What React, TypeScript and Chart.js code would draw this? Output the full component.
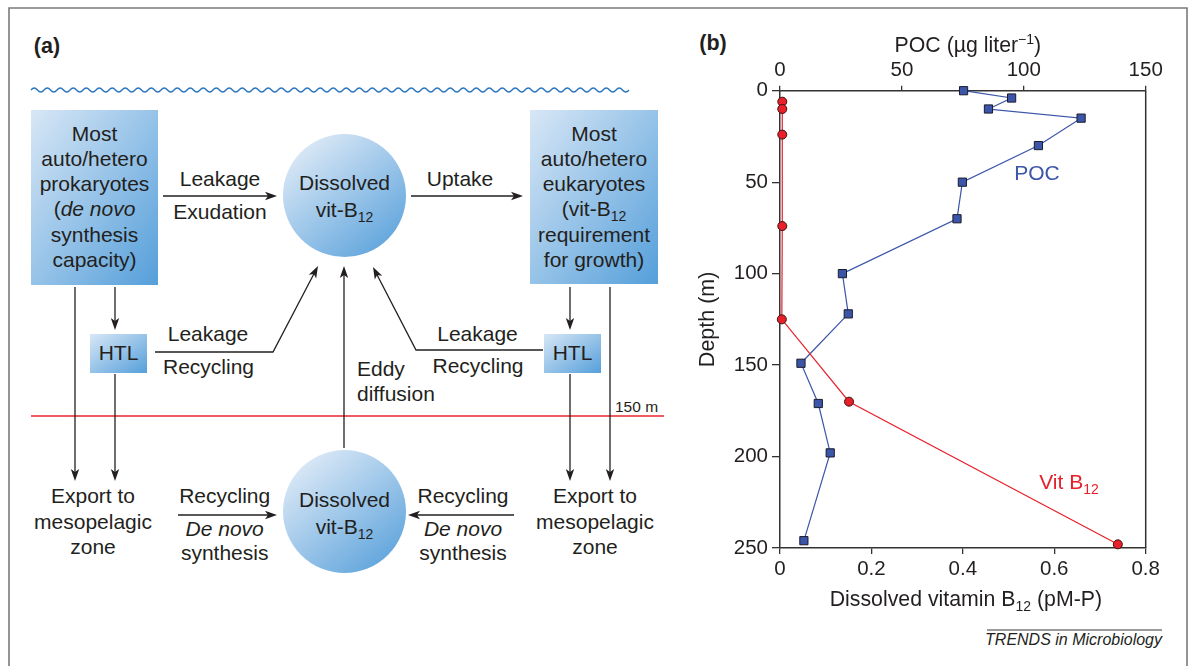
import React, { useEffect, useRef } from "react";
import { Chart, registerables } from "chart.js";

Chart.register(...registerables);

// ---------- data (panel b) ----------
const pocDepth = [0, 4, 10, 15, 30, 50, 70, 100, 122, 149, 171, 198, 246];
const pocValues = [75.3, 95, 85.5, 123.5, 106, 74.8, 72.6, 25.6, 28, 8.6, 15.7, 20.6, 9.8];
const b12Depth = [6, 10, 24, 74, 125, 170, 248];
const b12Values = [0.005, 0.005, 0.005, 0.005, 0.004, 0.151, 0.739];
const pocTicks = [0, 50, 100, 150];
const b12Ticks = [0, 0.2, 0.4, 0.6, 0.8];
const depthTicks = [0, 50, 100, 150, 200, 250];
const pocLabel = { text: "POC", poc: 105.4, depth: 49 };
const b12Label = { text: "Vit B", sub: "12", b12: 0.567, depth: 218 };

const FONT = "'Liberation Sans', Arial, Helvetica, sans-serif";
const INK = "#231f20";
const AXIS = "#333333";
const BLUE = "#3b55a8";
const RED = "#e8202a";
const FS = 21;

type Seg = { t: string; sup?: boolean; sub?: boolean };

function drawRich(ctx: CanvasRenderingContext2D, segs: Seg[], cx: number, y: number, color: string, size: number, align: "center" | "left") {
  const small = Math.round(size * 0.68);
  const widths = segs.map((s) => {
    ctx.font = `${s.sup || s.sub ? small : size}px ${FONT}`;
    return ctx.measureText(s.t).width;
  });
  const total = widths.reduce((a, b) => a + b, 0);
  let x = align === "center" ? cx - total / 2 : cx;
  ctx.fillStyle = color;
  ctx.textAlign = "left";
  ctx.textBaseline = "alphabetic";
  segs.forEach((s, i) => {
    ctx.font = `${s.sup || s.sub ? small : size}px ${FONT}`;
    const dy = s.sup ? -8 : s.sub ? 5 : 0;
    ctx.fillText(s.t, x, y + dy);
    x += widths[i];
  });
}

const overlayPlugin = {
  id: "overlay",
  beforeDatasetsDraw(chart: any) {
    const { ctx, chartArea: a } = chart;
    ctx.save();
    ctx.strokeStyle = AXIS;
    ctx.lineWidth = 1.5;
    ctx.beginPath();
    ctx.moveTo(a.right, a.top);
    ctx.lineTo(a.right, a.bottom);
    ctx.stroke();
    ctx.restore();
  },
  afterDraw(chart: any) {
    const { ctx, chartArea: a, scales } = chart;
    ctx.save();
    const cx = (a.left + a.right) / 2;
    drawRich(ctx, [{ t: "POC (\u00b5g liter" }, { t: "\u22121", sup: true }, { t: ")" }], cx + 5, a.top - 39, INK, 21.3, "center");
    drawRich(ctx, [{ t: "Dissolved vitamin B" }, { t: "12", sub: true }, { t: " (pM-P)" }], cx + 3, a.bottom + 58, INK, 21.3, "center");
    const px = scales.x2.getPixelForValue(pocLabel.poc);
    const py = scales.y.getPixelForValue(pocLabel.depth);
    drawRich(ctx, [{ t: pocLabel.text }], px, py, BLUE, 21, "center");
    const bx = scales.x.getPixelForValue(b12Label.b12);
    const by = scales.y.getPixelForValue(b12Label.depth);
    drawRich(ctx, [{ t: b12Label.text }, { t: b12Label.sub, sub: true }], bx, by, RED, 21, "left");
    ctx.restore();
  },
};

function BChart() {
  const ref = useRef<HTMLCanvasElement | null>(null);
  useEffect(() => {
    if (!ref.current) return;
    const tickFont = { size: 20.5, family: FONT };
    const baseGrid = { drawOnChartArea: false, drawTicks: true, color: AXIS, tickColor: AXIS, lineWidth: 1.3 };
    const chart = new Chart(ref.current, {
      type: "line",
      data: {
        datasets: [
          {
            label: "Vit B12",
            data: b12Depth.map((d, i) => ({ x: b12Values[i], y: d })),
            xAxisID: "x",
            yAxisID: "y",
            borderColor: RED,
            borderWidth: 1.2,
            pointStyle: "circle",
            pointRadius: 4.5,
            pointBackgroundColor: RED,
            pointBorderColor: "#3a1010",
            pointBorderWidth: 1,
            tension: 0,
            clip: false,
          } as any,
          {
            label: "POC",
            data: pocDepth.map((d, i) => ({ x: pocValues[i], y: d })),
            xAxisID: "x2",
            yAxisID: "y",
            borderColor: BLUE,
            borderWidth: 1.2,
            pointStyle: "rect",
            pointRadius: 5.8,
            pointBackgroundColor: BLUE,
            pointBorderColor: "#1b1b2b",
            pointBorderWidth: 1,
            tension: 0,
            clip: false,
          } as any,
        ],
      },
      options: {
        animation: false,
        responsive: false,
        devicePixelRatio: 1,
        layout: { padding: { left: 0, top: 0, right: 34.3, bottom: 0 } },
        plugins: { legend: { display: false }, tooltip: { enabled: false } },
        scales: {
          x: {
            type: "linear",
            position: "bottom",
            min: b12Ticks[0],
            max: b12Ticks[b12Ticks.length - 1],
            afterBuildTicks: (s: any) => { s.ticks = b12Ticks.map((v) => ({ value: v })); },
            ticks: { font: tickFont, color: INK, padding: 3, maxRotation: 0, autoSkip: false },
            grid: { ...baseGrid, tickLength: 6 },
            border: { display: true, color: AXIS, width: 1.5 },
            afterFit: (s: any) => { s.height = 72; },
          },
          x2: {
            type: "linear",
            position: "top",
            min: pocTicks[0],
            max: pocTicks[pocTicks.length - 1],
            afterBuildTicks: (s: any) => { s.ticks = pocTicks.map((v) => ({ value: v })); },
            ticks: { font: tickFont, color: INK, padding: 3, maxRotation: 0, autoSkip: false },
            grid: { ...baseGrid, tickLength: 5 },
            border: { display: true, color: AXIS, width: 1.5 },
            afterFit: (s: any) => { s.height = 70.7; },
          },
          y: {
            type: "linear",
            position: "left",
            reverse: true,
            min: depthTicks[0],
            max: depthTicks[depthTicks.length - 1],
            afterBuildTicks: (s: any) => { s.ticks = depthTicks.map((v) => ({ value: v })); },
            ticks: { font: tickFont, color: INK, padding: 4, autoSkip: false },
            grid: { ...baseGrid, tickLength: 8 },
            border: { display: true, color: AXIS, width: 1.5 },
            title: { display: true, text: "Depth (m)", font: { size: 21.5, family: FONT }, color: INK, padding: { top: 15, bottom: 0 } },
            afterFit: (s: any) => { s.width = 100; },
          },
        },
      } as any,
      plugins: [overlayPlugin],
    });
    return () => chart.destroy();
  }, []);
  return (
    <canvas
      ref={ref}
      width={500}
      height={600}
      style={{ position: "absolute", left: 680, top: 20, width: 500, height: 600 }}
    />
  );
}

// ---------- diagram (panel a) ----------
type Pt = [number, number];

function Arrow({ pts }: { pts: Pt[] }) {
  const n = pts.length;
  const [x2, y2] = pts[n - 1];
  const [x1, y1] = pts[n - 2];
  const len = Math.hypot(x2 - x1, y2 - y1);
  const ux = (x2 - x1) / len;
  const uy = (y2 - y1) / len;
  const nx = -uy;
  const ny = ux;
  const L = 12, W = 4.2, N = 9;
  const bx = x2 - L * ux, by = y2 - L * uy;
  const head = [
    [x2, y2],
    [bx + W * nx, by + W * ny],
    [x2 - N * ux, y2 - N * uy],
    [bx - W * nx, by - W * ny],
  ].map((p) => p.join(",")).join(" ");
  const line = pts.slice(0, n - 1).concat([[x2 - N * ux, y2 - N * uy]]).map((p) => p.join(",")).join(" ");
  return (
    <g>
      <polyline points={line} fill="none" stroke={INK} strokeWidth={1.3} />
      <polygon points={head} fill={INK} />
    </g>
  );
}

function T({ x, y, children, anchor = "middle", size = FS, weight, fill = INK, style }: any) {
  return (
    <text x={x} y={y} textAnchor={anchor} fontSize={size} fontFamily={FONT} fontWeight={weight} fill={fill} fontStyle={style}>
      {children}
    </text>
  );
}

const Sub = ({ children }: any) => (
  <tspan fontSize={14} dy={5}>{children}</tspan>
);

function wavePath() {
  let d = "M 31 90";
  for (let x = 31; x + 13 <= 633; x += 13) d += " q 3.25 -4 6.5 0 q 3.25 4 6.5 0";
  return d;
}

function Diagram() {
  const lines = (cx: number, ys: number[], txt: any[]) =>
    txt.map((t, i) => (
      <T key={i} x={cx} y={ys[i]}>{t}</T>
    ));
  const boxYs = [140.7, 165.9, 191.1, 216.3, 241.5, 266.7];
  return (
    <svg width={1189} height={666} style={{ position: "absolute", left: 0, top: 0 }}>
      <defs>
        <linearGradient id="gb" x1="0" y1="0" x2="1" y2="1">
          <stop offset="0%" stopColor="#d8e7f6" />
          <stop offset="100%" stopColor="#559fda" />
        </linearGradient>
        <linearGradient id="gc" x1="0.15" y1="0.1" x2="0.85" y2="0.95">
          <stop offset="0%" stopColor="#dae8f6" />
          <stop offset="100%" stopColor="#5fa4dc" />
        </linearGradient>
      </defs>
      {/* frame */}
      <polyline points="9,666 9,8 1187,8 1187,666" fill="none" stroke="#7a7a7a" strokeWidth={1.6} />
      <T x={47} y={53} weight="bold" size={21.5}>(a)</T>
      <T x={713} y={50} weight="bold" size={21.5}>(b)</T>
      <path d={wavePath()} fill="none" stroke="#2b76bf" strokeWidth={1.3} />
      {/* boxes */}
      <rect x={31} y={110} width={127} height={175} fill="url(#gb)" />
      <rect x={530} y={110} width={128} height={174} fill="url(#gb)" />
      <rect x={90} y={334} width={57} height={39} fill="url(#gb)" />
      <rect x={544} y={334} width={57} height={39} fill="url(#gb)" />
      <circle cx={344.5} cy={195.5} r={61.5} fill="url(#gc)" />
      <circle cx={344.5} cy={511.5} r={61.5} fill="url(#gc)" />
      {/* red 150 m line */}
      <line x1={31} y1={416} x2={664} y2={416} stroke="#e8242c" strokeWidth={1.3} />
      <T x={615} y={411.7} anchor="start" size={15.5}>150 m</T>
      {/* arrows */}
      <Arrow pts={[[163, 196], [277, 196]]} />
      <Arrow pts={[[411, 196], [523, 196]]} />
      <Arrow pts={[[115, 287], [115, 330]]} />
      <Arrow pts={[[75, 287], [75, 481]]} />
      <Arrow pts={[[115, 374], [115, 481]]} />
      <Arrow pts={[[155, 352], [273, 352], [318, 266]]} />
      <Arrow pts={[[344, 448], [344, 266]]} />
      <Arrow pts={[[543, 350], [416, 350], [373, 267]]} />
      <Arrow pts={[[570, 287], [570, 330]]} />
      <Arrow pts={[[610, 287], [610, 481]]} />
      <Arrow pts={[[570, 374], [570, 481]]} />
      <Arrow pts={[[178, 515], [277, 515]]} />
      <Arrow pts={[[514, 515], [408, 515]]} />
      {/* box texts */}
      {lines(94.5, boxYs, [
        "Most",
        "auto/hetero",
        "prokaryotes",
        <>(<tspan fontStyle="italic">de novo</tspan></>,
        "synthesis",
        "capacity)",
      ])}
      {lines(594, boxYs, [
        "Most",
        "auto/hetero",
        "eukaryotes",
        <>(vit-B<Sub>12</Sub></>,
        "requirement",
        "for growth)",
      ])}
      <T x={118.5} y={360}>HTL</T>
      <T x={572.5} y={360}>HTL</T>
      {/* circle texts */}
      <T x={344.5} y={190}>Dissolved</T>
      <T x={344.5} y={217}>vit-B<Sub>12</Sub></T>
      <T x={344.5} y={507}>Dissolved</T>
      <T x={344.5} y={534}>vit-B<Sub>12</Sub></T>
      {/* arrow labels */}
      <T x={220} y={185.7}>Leakage</T>
      <T x={220} y={219}>Exudation</T>
      <T x={460} y={186}>Uptake</T>
      <T x={208} y={341}>Leakage</T>
      <T x={208.5} y={374}>Recycling</T>
      <T x={477.5} y={340.7}>Leakage</T>
      <T x={478} y={373}>Recycling</T>
      <T x={357} y={376} anchor="start">Eddy</T>
      <T x={357} y={400.7} anchor="start">diffusion</T>
      <T x={224.7} y={502.7}>Recycling</T>
      <T x={224.7} y={536} style="italic">De novo</T>
      <T x={224.7} y={560}>synthesis</T>
      <T x={463} y={502.7}>Recycling</T>
      <T x={463} y={536} style="italic">De novo</T>
      <T x={463} y={560}>synthesis</T>
      {lines(93, [503, 529, 554], ["Export to", "mesopelagic", "zone"])}
      {lines(595, [503, 529, 554], ["Export to", "mesopelagic", "zone"])}
      {/* footer */}
      <line x1={987} y1={630} x2={1162} y2={630} stroke="#7a7a7a" strokeWidth={1.5} />
      <T x={1162} y={645} anchor="end" size={16} style="italic">TRENDS in Microbiology</T>
    </svg>
  );
}

export default function App() {
  return (
    <div style={{ position: "absolute", left: 0, top: 0, width: 1189, height: 666, background: "#fff", overflow: "hidden" }}>
      <Diagram />
      <BChart />
    </div>
  );
}
